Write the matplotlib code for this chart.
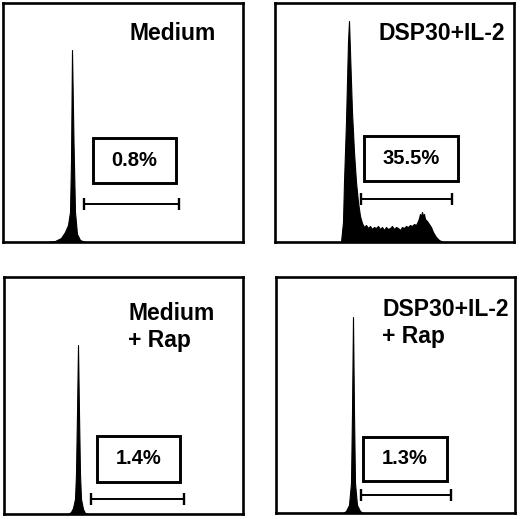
import matplotlib
matplotlib.use('Agg')
import matplotlib.pyplot as plt
from matplotlib.patches import Rectangle

plt.rcParams['font.family'] = ['Liberation Sans', 'DejaVu Sans']

# данные гистограмм (канал, число событий)
medium_x = [0, 45, 52, 58, 62, 65, 67, 68, 69, 70.5, 72, 74, 77, 82, 240]
medium_y = [0, 0, 1, 4, 10, 17, 30, 80, 192, 100, 30, 8, 2, 0, 0]

dsp_x = [0, 66, 68, 69, 71, 73, 74, 75, 77, 79, 81, 83, 85, 87, 89, 91, 93, 95, 97, 99,
         101, 103, 105, 107, 109, 111, 113, 115, 117, 119, 121, 123, 125, 127, 129, 131,
         133, 135, 137, 139, 141, 143, 144, 145, 146, 147, 148, 149, 150, 152, 154, 156,
         158, 161, 164, 168, 240]
dsp_y = [0, 0, 20, 60, 120, 200, 221, 190, 130, 90, 60, 40, 26, 19, 15, 17, 14, 16, 13, 15,
         14, 16, 13, 15, 12, 15, 13, 14, 16, 13, 15, 14, 12, 15, 14, 16,
         15, 17, 16, 18, 17, 21, 24, 28, 25, 30, 26, 28, 23, 21, 18, 15,
         10, 5, 2, 0, 0]

medium_rap_x = [0, 64, 67, 69, 71, 72, 73, 74, 75, 76, 77, 79, 81, 84, 240]
medium_rap_y = [0, 0, 2, 6, 15, 40, 100, 169, 100, 40, 15, 5, 1, 0, 0]

dsp_rap_x = [0, 67, 70, 73, 75, 76, 77, 78, 79, 81, 84, 87, 240]
dsp_rap_y = [0, 0, 2, 8, 30, 100, 196, 100, 30, 8, 2, 0, 0]

labels = ['Medium', 'DSP30+IL-2', 'Medium\n+ Rap', 'DSP30+IL-2\n+ Rap']
percents = ['0.8%', '35.5%', '1.4%', '1.3%']
gates = [(81, 176), (86, 177), (87, 180), (85, 175)]

# положение панелей в пикселях: left, top, right, bottom
panels = [(3, 3, 243, 242), (275, 3, 514, 242), (4, 277, 243, 514), (276, 277, 515, 513)]
# рамка с процентом: x0, x1, y0, y1 (в пикселях панели)
boxes = [(90, 173, 59, 104), (89, 183, 61, 106), (93, 176, 32, 78), (87, 171, 32, 76)]
gate_y = [38, 43, 15, 18]
# подписи: x, y, ha
label_pos = [(213, 208, 'right'), (230, 209, 'right'), (124, 187, 'left'), (106, 190, 'left')]

hists = [(medium_x, medium_y), (dsp_x, dsp_y), (medium_rap_x, medium_rap_y), (dsp_rap_x, dsp_rap_y)]

W, H = 520, 519
fig = plt.figure(figsize=(W / 100, H / 100), dpi=100)

for i in range(4):
    l, t, r, b = panels[i]
    ax = fig.add_axes([l / W, 1 - b / H, (r - l) / W, (b - t) / H])
    ax.set_xlim(0, r - l)
    ax.set_ylim(0, b - t)
    for s in ax.spines.values():
        s.set_linewidth(1.9)
    ax.set_xticks([]), ax.set_yticks([])

    hx, hy = hists[i]
    ax.fill_between(hx, 0, hy, color='black', lw=0.8)

    x0, x1, y0, y1 = boxes[i]
    ax.add_patch(Rectangle((x0, y0), x1 - x0, y1 - y0, fill=False, lw=2.1, ec='black'))
    ax.text((x0 + x1) / 2, (y0 + y1) / 2, percents[i], ha='center', va='center',
            fontsize=14.5, fontweight='bold')

    g0, g1 = gates[i]
    ax.plot([g0, g1], [gate_y[i], gate_y[i]], color='black', lw=1.4)
    ax.plot([g0, g1], [gate_y[i], gate_y[i]], ls='', marker='|', ms=8, mew=1.7, color='black')

    lx, ly, ha = label_pos[i]
    ax.text(lx, ly, labels[i], ha=ha, va='center', fontsize=16.5, fontweight='bold',
            linespacing=1.25)

fig.savefig('out.png', dpi=100)
